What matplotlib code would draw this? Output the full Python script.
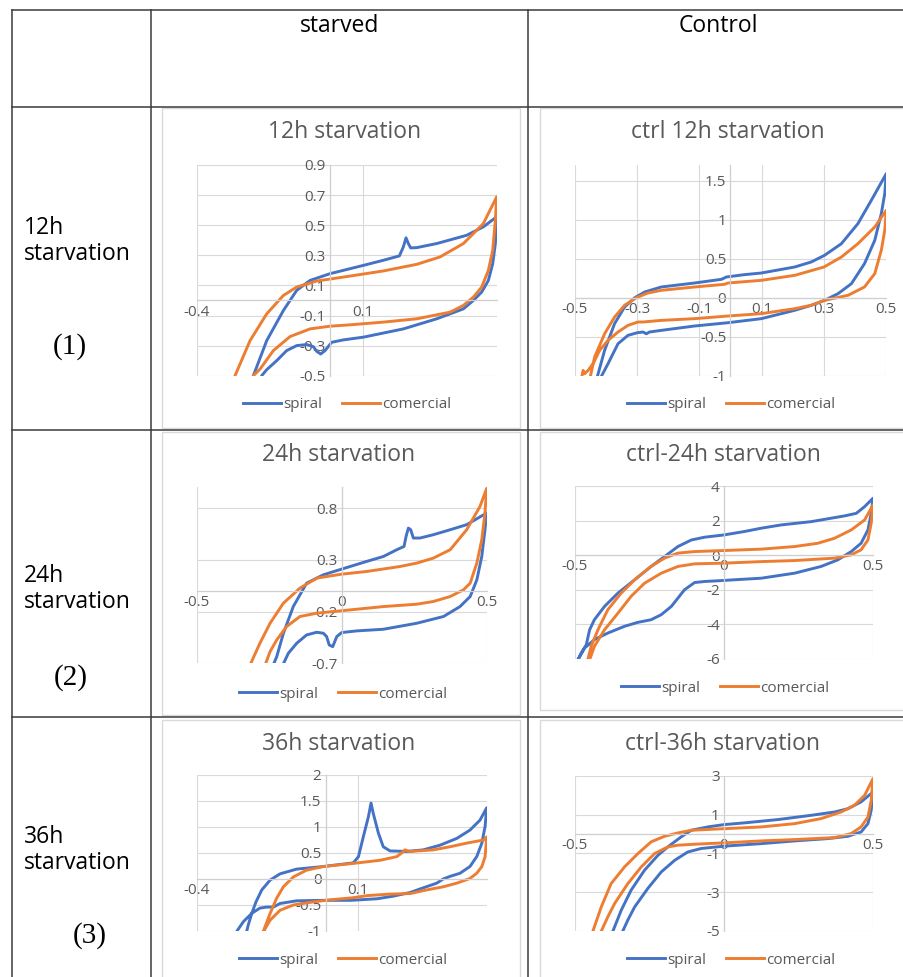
import matplotlib
matplotlib.use('Agg')
import matplotlib.pyplot as plt
from matplotlib.patches import Rectangle
import numpy as np

W, H = 904, 977
BLUE = '#4472C4'
ORANGE = '#ED7D31'
GRID = '#D9D9D9'
TXT = '#595959'
LINE = '#3a3a3a'

# (potential, current) points, traced as one loop
SPIRAL_12 = [(-0.24, -0.62), (-0.23, -0.50), (-0.19, -0.267), (-0.14, -0.067), (-0.10, 0.067),
             (-0.06, 0.133), (0.0, 0.178), (0.10, 0.233), (0.16, 0.267), (0.208, 0.296),
             (0.22, 0.356), (0.228, 0.416), (0.235, 0.378), (0.242, 0.349), (0.26, 0.351),
             (0.32, 0.378), (0.41, 0.433), (0.46, 0.489), (0.50, 0.556), (0.496, 0.378),
             (0.488, 0.244), (0.475, 0.133), (0.455, 0.056), (0.43, 0.0), (0.40, -0.056),
             (0.32, -0.122), (0.22, -0.189), (0.10, -0.244), (0.04, -0.262), (0.005, -0.278),
             (-0.015, -0.333), (-0.028, -0.356), (-0.04, -0.338), (-0.05, -0.307), (-0.07, -0.293),
             (-0.10, -0.30), (-0.13, -0.333), (-0.16, -0.40), (-0.19, -0.46), (-0.205, -0.5),
             (-0.215, -0.6)]
COMERCIAL_12 = [(-0.295, -0.6), (-0.285, -0.5), (-0.24, -0.267), (-0.19, -0.089), (-0.14, 0.033),
                (-0.10, 0.089), (-0.04, 0.129), (0.06, 0.162), (0.16, 0.196), (0.26, 0.24),
                (0.33, 0.289), (0.40, 0.378), (0.46, 0.511), (0.50, 0.689), (0.496, 0.533),
                (0.488, 0.333), (0.475, 0.2), (0.455, 0.089), (0.43, 0.022), (0.40, -0.033),
                (0.36, -0.078), (0.26, -0.122), (0.16, -0.144), (0.06, -0.162), (0.0, -0.171),
                (-0.06, -0.189), (-0.12, -0.24), (-0.17, -0.333), (-0.21, -0.456), (-0.23, -0.5),
                (-0.24, -0.6)]

SPIRAL_C12 = [(-0.43, -1.05), (-0.404, -0.675), (-0.372, -0.333), (-0.34, -0.12), (-0.307, 0.0),
              (-0.275, 0.073), (-0.222, 0.137), (-0.115, 0.188), (-0.029, 0.235), (-0.013, 0.265),
              (0.045, 0.295), (0.099, 0.316), (0.206, 0.393), (0.259, 0.457), (0.302, 0.543),
              (0.356, 0.692), (0.409, 0.949), (0.452, 1.248), (0.5, 1.59), (0.495, 1.333),
              (0.484, 1.077), (0.463, 0.735), (0.43, 0.436), (0.388, 0.179), (0.345, 0.051),
              (0.302, -0.034), (0.259, -0.098), (0.206, -0.162), (0.099, -0.269), (-0.008, -0.321),
              (-0.115, -0.363), (-0.222, -0.419), (-0.26, -0.44), (-0.27, -0.463), (-0.281, -0.44),
              (-0.3, -0.45), (-0.329, -0.483), (-0.361, -0.59), (-0.393, -0.846), (-0.42, -1.05)]
COMERCIAL_C12 = [(-0.452, -1.05), (-0.436, -0.761), (-0.404, -0.462), (-0.372, -0.248), (-0.34, -0.098),
                 (-0.302, 0.0), (-0.265, 0.06), (-0.222, 0.094), (-0.115, 0.137), (-0.019, 0.171),
                 (-0.008, 0.188), (0.099, 0.222), (0.206, 0.286), (0.3, 0.393), (0.356, 0.521),
                 (0.409, 0.692), (0.463, 0.906), (0.5, 1.12), (0.495, 0.863), (0.484, 0.607),
                 (0.463, 0.308), (0.43, 0.137), (0.377, 0.03), (0.302, -0.034), (0.259, -0.098),
                 (0.206, -0.141), (0.099, -0.205), (-0.008, -0.235), (-0.115, -0.269), (-0.222, -0.291),
                 (-0.281, -0.312), (-0.297, -0.312), (-0.329, -0.355), (-0.361, -0.44), (-0.393, -0.547),
                 (-0.42, -0.675), (-0.441, -0.846), (-0.457, -0.932), (-0.468, -0.974), (-0.473, -0.932),
                 (-0.479, -1.05)]

SPIRAL_24 = [(-0.236, -0.716), (-0.224, -0.635), (-0.201, -0.41), (-0.167, -0.152), (-0.121, 0.074),
             (-0.063, 0.155), (0.0, 0.21), (0.086, 0.284), (0.144, 0.332), (0.19, 0.397),
             (0.215, 0.429), (0.222, 0.526), (0.23, 0.606), (0.238, 0.59), (0.247, 0.51),
             (0.27, 0.51), (0.316, 0.542), (0.374, 0.59), (0.431, 0.639), (0.5, 0.752),
             (0.494, 0.59), (0.483, 0.332), (0.466, 0.106), (0.443, -0.055), (0.408, -0.152),
             (0.351, -0.248), (0.259, -0.313), (0.144, -0.371), (0.052, -0.387), (0.0, -0.403),
             (-0.017, -0.442), (-0.031, -0.539), (-0.043, -0.523), (-0.052, -0.442), (-0.063, -0.41),
             (-0.086, -0.40), (-0.121, -0.426), (-0.155, -0.506), (-0.184, -0.603), (-0.203, -0.716),
             (-0.213, -0.8)]
COMERCIAL_24 = [(-0.325, -0.8), (-0.316, -0.716), (-0.282, -0.506), (-0.247, -0.313), (-0.201, -0.119),
                (-0.144, 0.026), (-0.086, 0.123), (0.0, 0.161), (0.086, 0.187), (0.201, 0.235),
                (0.259, 0.268), (0.316, 0.316), (0.374, 0.397), (0.431, 0.59), (0.477, 0.816),
                (0.5, 0.99), (0.494, 0.752), (0.483, 0.494), (0.466, 0.268), (0.443, 0.074),
                (0.42, 0.01), (0.374, -0.055), (0.316, -0.103), (0.259, -0.129), (0.144, -0.152),
                (0.029, -0.184), (-0.086, -0.216), (-0.144, -0.248), (-0.19, -0.345), (-0.224, -0.474),
                (-0.247, -0.587), (-0.264, -0.716), (-0.27, -0.77)]

SPIRAL_C24 = [(-0.489, -6.04), (-0.478, -5.65), (-0.461, -5.17), (-0.45, -4.31), (-0.434, -3.73),
              (-0.40, -2.96), (-0.355, -2.19), (-0.299, -1.42), (-0.244, -0.65), (-0.199, -0.08),
              (-0.154, 0.50), (-0.109, 0.88), (-0.065, 1.04), (0.0, 1.17), (0.069, 1.37),
              (0.125, 1.56), (0.192, 1.75), (0.293, 1.94), (0.404, 2.27), (0.444, 2.42),
              (0.472, 2.81), (0.5, 3.29), (0.494, 2.42), (0.483, 1.46), (0.46, 0.69),
              (0.427, 0.21), (0.382, -0.27), (0.326, -0.65), (0.237, -1.04), (0.125, -1.33),
              (0.036, -1.42), (0.0, -1.46), (-0.065, -1.52), (-0.098, -1.58), (-0.132, -2.0),
              (-0.176, -2.96), (-0.21, -3.44), (-0.244, -3.73), (-0.288, -3.88), (-0.333, -4.11),
              (-0.389, -4.5), (-0.434, -4.88), (-0.467, -5.37), (-0.489, -6.04)]
COMERCIAL_C24 = [(-0.456, -6.04), (-0.445, -5.27), (-0.422, -4.31), (-0.389, -3.15), (-0.344, -2.19),
                 (-0.299, -1.42), (-0.244, -0.65), (-0.199, -0.17), (-0.154, 0.12), (-0.098, 0.21),
                 (0.0, 0.27), (0.125, 0.35), (0.237, 0.50), (0.315, 0.69), (0.371, 0.98),
                 (0.427, 1.46), (0.472, 2.04), (0.5, 2.90), (0.494, 1.85), (0.483, 0.88),
                 (0.46, 0.31), (0.427, 0.02), (0.371, -0.17), (0.237, -0.31), (0.125, -0.37),
                 (0.0, -0.46), (-0.098, -0.50), (-0.154, -0.65), (-0.21, -1.04), (-0.266, -1.62),
                 (-0.311, -2.38), (-0.355, -3.35), (-0.40, -4.31), (-0.434, -5.27), (-0.45, -6.04)]

SPIRAL_36 = [(-0.25, -1.1), (-0.245, -1.01), (-0.24, -0.885), (-0.229, -0.66), (-0.216, -0.44),
             (-0.198, -0.21), (-0.172, -0.02), (-0.141, 0.10), (-0.09, 0.19), (-0.007, 0.24),
             (0.086, 0.31), (0.102, 0.43), (0.117, 0.81), (0.133, 1.20), (0.141, 1.46),
             (0.148, 1.26), (0.164, 0.88), (0.179, 0.62), (0.2, 0.54), (0.252, 0.53),
             (0.303, 0.56), (0.355, 0.65), (0.407, 0.78), (0.448, 0.94), (0.479, 1.13),
             (0.5, 1.37), (0.495, 1.01), (0.485, 0.69), (0.469, 0.43), (0.448, 0.24),
             (0.417, 0.11), (0.386, 0.05), (0.365, 0.0), (0.345, -0.08), (0.303, -0.17),
             (0.262, -0.26), (0.21, -0.33), (0.16, -0.38), (0.08, -0.41), (-0.007, -0.41),
             (-0.09, -0.42), (-0.141, -0.47), (-0.162, -0.54), (-0.183, -0.54), (-0.204, -0.56),
             (-0.229, -0.66), (-0.255, -0.82), (-0.276, -1.01), (-0.285, -1.1)]
COMERCIAL_36 = [(-0.198, -1.1), (-0.193, -1.01), (-0.188, -0.92), (-0.172, -0.66), (-0.152, -0.37),
                (-0.131, -0.15), (-0.10, 0.04), (-0.059, 0.17), (-0.007, 0.24), (0.086, 0.30),
                (0.169, 0.36), (0.221, 0.43), (0.236, 0.50), (0.246, 0.56), (0.262, 0.53),
                (0.334, 0.56), (0.386, 0.62), (0.438, 0.69), (0.49, 0.75), (0.5, 0.81),
                (0.495, 0.43), (0.485, 0.24), (0.469, 0.11), (0.448, 0.01), (0.407, -0.08),
                (0.365, -0.15), (0.314, -0.21), (0.262, -0.28), (0.2, -0.29), (0.128, -0.32),
                (0.086, -0.36), (0.014, -0.40), (-0.038, -0.44), (-0.10, -0.50), (-0.141, -0.60),
                (-0.172, -0.79), (-0.193, -1.01), (-0.198, -1.1)]

SPIRAL_C36 = [(-0.38, -5.3), (-0.372, -5.01), (-0.344, -3.93), (-0.311, -2.90), (-0.266, -1.87),
              (-0.221, -1.10), (-0.188, -0.67), (-0.143, -0.15), (-0.109, 0.19), (-0.054, 0.36),
              (0.0, 0.48), (0.069, 0.57), (0.181, 0.74), (0.293, 0.96), (0.371, 1.13),
              (0.416, 1.30), (0.46, 1.65), (0.5, 2.16), (0.494, 1.22), (0.483, 0.53),
              (0.46, 0.10), (0.416, -0.12), (0.349, -0.24), (0.237, -0.36), (0.125, -0.50),
              (0.0, -0.63), (-0.076, -0.75), (-0.121, -0.93), (-0.165, -1.36), (-0.21, -1.96),
              (-0.255, -2.81), (-0.299, -3.76), (-0.322, -4.44), (-0.339, -5.01), (-0.345, -5.3)]
COMERCIAL_C36 = [(-0.445, -5.3), (-0.439, -5.01), (-0.411, -3.76), (-0.378, -2.56), (-0.333, -1.70),
                 (-0.288, -1.01), (-0.244, -0.41), (-0.199, -0.12), (-0.154, 0.05), (-0.109, 0.19),
                 (0.0, 0.27), (0.125, 0.36), (0.237, 0.53), (0.326, 0.79), (0.393, 1.13),
                 (0.438, 1.48), (0.472, 1.99), (0.5, 2.85), (0.494, 1.73), (0.483, 0.87),
                 (0.46, 0.36), (0.427, 0.02), (0.371, -0.19), (0.237, -0.29), (0.125, -0.36),
                 (0.0, -0.46), (-0.098, -0.53), (-0.154, -0.58), (-0.188, -0.67), (-0.232, -1.01),
                 (-0.277, -1.70), (-0.322, -2.56), (-0.366, -3.58), (-0.389, -4.27), (-0.411, -5.01),
                 (-0.417, -5.3)]

# axis ticks of each chart
XT_12 = [-0.4, 0.1]
YT_12 = [-0.5, -0.3, -0.1, 0.1, 0.3, 0.5, 0.7, 0.9]
XT_C12 = [-0.5, -0.3, -0.1, 0.1, 0.3, 0.5]
YT_C12 = [-1, -0.5, 0, 0.5, 1, 1.5]
XT_24 = [-0.5, 0, 0.5]
YT_24 = [-0.7, -0.2, 0.3, 0.8]
XT_C24 = [-0.5, 0, 0.5]
YT_C24 = [-6, -4, -2, 0, 2, 4]
XT_36 = [-0.4, 0.1]
YT_36 = [-1, -0.5, 0, 0.5, 1, 1.5, 2]
XT_C36 = [-0.5, 0, 0.5]
YT_C36 = [-5, -3, -1, 1, 3]

TITLES = ['12h starvation', 'ctrl 12h starvation', '24h starvation',
          'ctrl-24h starvation', '36h starvation', 'ctrl-36h starvation']
ROW_LABELS = ['12h\nstarvation', '24h\nstarvation', '36h\nstarvation']
ROW_NUMS = ['(1)', '(2)', '(3)']
COL_LABELS = ['starved', 'Control']

plt.rcParams['font.family'] = ['Open Sans', 'DejaVu Sans']

fig = plt.figure(figsize=(W / 100, H / 100), dpi=100)
bg = fig.add_axes([0, 0, 1, 1])
bg.set_xlim(0, W)
bg.set_ylim(H, 0)
bg.axis('off')

# table grid
for y in [10, 107, 430, 717]:
    bg.plot([12, W], [y, y], color=LINE, lw=1.1)
for x in [12, 151, 528]:
    bg.plot([x, x], [10, H], color=LINE, lw=1.1)

for label, cx in zip(COL_LABELS, [340, 718]):
    bg.text(cx, 26, label, ha='center', va='center', fontsize=16.5, color='black')
for label, num, cy, (nx, ny) in zip(ROW_LABELS, ROW_NUMS, [241, 589, 850],
                                    [(70, 347), (71, 678), (90, 936)]):
    bg.text(24, cy, label, ha='left', va='center', fontsize=16.5, color='black', linespacing=1.15)
    bg.text(nx, ny, num, ha='center', va='center', fontsize=21, color='black',
            family='Liberation Serif')


def px_axes(x0, y0, x1, y1):
    return fig.add_axes([x0 / W, 1 - y1 / H, (x1 - x0) / W, (y1 - y0) / H])


def draw_cv(ax, spiral, comercial, xlim, ylim, xticks, yticks):
    sx, sy = np.array(spiral).T
    cx, cy = np.array(comercial).T
    ax.plot(sx, sy, color=BLUE, lw=2.1, label='spiral', solid_joinstyle='round')
    ax.plot(cx, cy, color=ORANGE, lw=2.1, label='comercial', solid_joinstyle='round')
    ax.set_xlim(xlim)
    ax.set_ylim(ylim)
    ax.set_xticks(xticks)
    ax.set_yticks(yticks)
    ax.set_xticklabels([f'{v:g}' for v in xticks])
    ax.set_yticklabels([f'{v:g}' for v in yticks])
    ax.spines['top'].set_visible(False)
    ax.spines['right'].set_visible(False)
    ax.spines['left'].set_position(('data', 0))
    ax.spines['bottom'].set_position(('data', 0))
    for s in ['left', 'bottom']:
        ax.spines[s].set_color('#CFCFCF')
        ax.spines[s].set_linewidth(0.9)
    ax.tick_params(length=0, labelsize=11, labelcolor=TXT, pad=3)
    ax.grid(True, color=GRID, lw=0.8)
    ax.set_axisbelow(True)
    ax.set_facecolor('none')


charts = [
    (SPIRAL_12, COMERCIAL_12, (-0.4, 0.5), (-0.5, 0.9), XT_12, YT_12,
     (196.7, 165, 496.7, 375.7), (162, 108, 520, 428), (345, 132), (347, 405)),
    (SPIRAL_C12, COMERCIAL_C12, (-0.5, 0.5), (-1, 1.7), XT_C12, YT_C12,
     (574.7, 165, 886.3, 375.7), (540, 108, 910, 428), (728, 132), (731, 405)),
    (SPIRAL_24, COMERCIAL_24, (-0.5, 0.5), (-0.7, 1.0), XT_24, YT_24,
     (196.7, 487.3, 486.7, 663.3), (162, 432, 520, 715), (339, 455), (343, 694)),
    (SPIRAL_C24, COMERCIAL_C24, (-0.5, 0.5), (-6, 4), XT_C24, YT_C24,
     (574.7, 486, 873, 659), (540, 432, 910, 710), (723, 455), (725, 688)),
    (SPIRAL_36, COMERCIAL_36, (-0.4, 0.5), (-1, 2), XT_36, YT_36,
     (196.7, 775, 486.7, 931), (162, 720, 520, 985), (339, 744), (343, 960)),
    (SPIRAL_C36, COMERCIAL_C36, (-0.5, 0.5), (-5, 3), XT_C36, YT_C36,
     (574.7, 775.7, 873, 931), (540, 720, 910, 985), (723, 744), (731, 960)),
]

for title, (sp, co, xl, yl, xt, yt, box, frame, tpos, lpos) in zip(TITLES, charts):
    fx0, fy0, fx1, fy1 = frame
    bg.add_patch(Rectangle((fx0, fy0), fx1 - fx0, fy1 - fy0, fill=False,
                           edgecolor=GRID, lw=1.0))
    bg.text(tpos[0], tpos[1], title, ha='center', va='center', fontsize=16.5, color=TXT)
    ax = px_axes(*box)
    draw_cv(ax, sp, co, xl, yl, xt, yt)
    ax.legend(loc='center', bbox_to_anchor=(lpos[0] / W, 1 - lpos[1] / H),
              bbox_transform=fig.transFigure, ncol=2, frameon=False, fontsize=11,
              handlelength=2.5, handletextpad=0.15, columnspacing=1.3, labelcolor=TXT)

fig.savefig('out.png', dpi=100)
